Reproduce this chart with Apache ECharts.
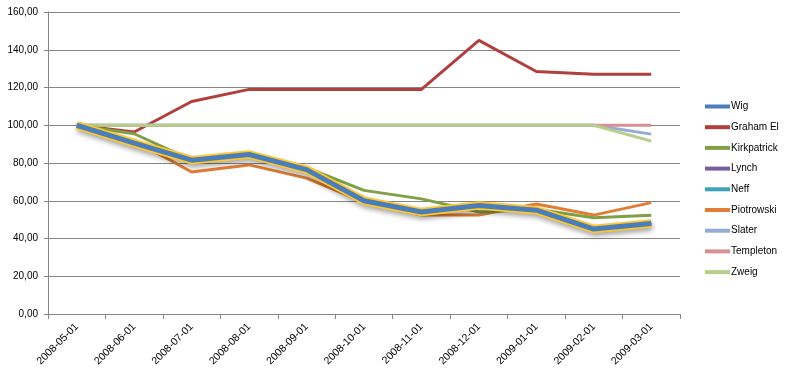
<!DOCTYPE html>
<html><head><meta charset="utf-8">
<script src="https://cdn.jsdelivr.net/npm/echarts@6/dist/echarts.min.js"></script>
<style>html,body{margin:0;padding:0;background:#fff}#c{width:793px;height:375px}</style>
</head><body><div id="c"></div>
<script>
const categories = ['2008-05-01','2008-06-01','2008-07-01','2008-08-01','2008-09-01','2008-10-01','2008-11-01','2008-12-01','2009-01-01','2009-02-01','2009-03-01'];
const wig        = [100, 90.5, 81.5, 84.5, 76.5, 60.0, 54.0, 57.5, 55.0, 45.0, 48.0];
const grahamEl   = [100, 96.4, 112.6, 119.0, 119.0, 119.0, 119.0, 145.0, 128.5, 127.0, 127.0];
const kirkpatrick= [100, 95.5, 81.5, 83.5, 77.5, 65.5, 61.0, 54.0, 55.5, 51.0, 52.3];
const lynch      = [100, 90.5, 81.5, 84.5, 76.5, 60.0, 54.0, 57.5, 55.0, 45.0, 48.0];
const neff       = [100, 90.5, 81.5, 84.5, 76.5, 60.0, 54.0, 57.5, 55.0, 45.0, 48.0];
const piotrowski = [100, 92.0, 75.2, 79.0, 72.0, 59.3, 52.4, 52.4, 58.3, 52.4, 59.0];
const slater     = [100, 100, 100, 100, 100, 100, 100, 100, 100, 100, 95.3];
const templeton  = [100, 100, 100, 100, 100, 100, 100, 100, 100, 100, 100];
const zweig      = [100, 100, 100, 100, 100, 100, 100, 100, 100, 100, 91.6];
const yTicks = {min: 0, max: 160, interval: 20};

const names = ['Wig','Graham El','Kirkpatrick','Lynch','Neff','Piotrowski','Slater','Templeton','Zweig'];
const datas = [wig, grahamEl, kirkpatrick, lynch, neff, piotrowski, slater, templeton, zweig];
const colors = ['#4A7EBB','#B0403E','#7FA044','#7A5C9E','#3FA2BC','#E07E36','#94ABD6','#D99090','#B5CE8C'];
const widths = [5, 3, 3, 3, 3, 3, 3, 3, 3];
const zs = [10, 3, 4, 2, 2, 3, 3, 3, 3];

const series = [];
series.push({
  name: '_wigGlow', type: 'line', data: wig, symbol: 'none', silent: true, z: 9,
  lineStyle: {color: '#FFC72C', width: 8.5, shadowColor: 'rgba(0,0,0,0.35)', shadowBlur: 5, shadowOffsetY: 3, shadowOffsetX: 1},
  legendHoverLink: false
});
names.forEach((n, i) => {
  series.push({
    name: n, type: 'line', data: datas[i], symbol: 'none', z: zs[i],
    itemStyle: {color: colors[i]},
    lineStyle: {color: colors[i], width: widths[i]}
  });
});

const chart = echarts.init(document.getElementById('c'));
chart.setOption({
  animation: false,
  grid: {left: 48, right: 113, top: 12, bottom: 61, containLabel: false},
  legend: {
    data: names, orient: 'vertical', left: 705, top: 101.5, padding: 0,
    icon: 'rect', itemWidth: 25, itemHeight: 4, itemGap: 10.7,
    textStyle: {fontFamily: 'Liberation Sans, Arial, sans-serif', fontSize: 10, color: '#000', padding: [0,0,0,-4]}
  },
  xAxis: {
    type: 'category', data: categories, boundaryGap: true,
    axisLine: {lineStyle: {color: '#868686', width: 1}},
    axisTick: {show: true, alignWithLabel: false, length: 5, lineStyle: {color: '#868686'}},
    axisLabel: {rotate: 45, interval: 0, fontFamily: 'Liberation Sans, Arial, sans-serif', fontSize: 10.5, color: '#000', margin: 11}
  },
  yAxis: {
    type: 'value', min: yTicks.min, max: yTicks.max, interval: yTicks.interval,
    axisLine: {show: true, lineStyle: {color: '#868686'}},
    axisTick: {show: true, length: 4, lineStyle: {color: '#868686'}},
    splitLine: {show: true, lineStyle: {color: '#868686', width: 1}},
    axisLabel: {fontFamily: 'Liberation Sans, Arial, sans-serif', fontSize: 10, color: '#000', margin: 10,
      formatter: v => v.toFixed(2).replace('.', ',')}
  },
  series: series
});
</script>
</body></html>
